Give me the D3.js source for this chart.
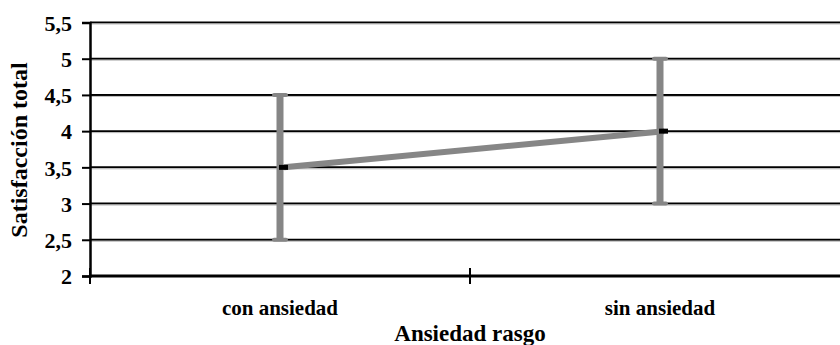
<!DOCTYPE html>
<html><head><meta charset="utf-8">
<script src="https://cdn.jsdelivr.net/npm/d3@7/dist/d3.min.js"></script>
<style>body{margin:0;background:#fff}svg{display:block}</style>
</head><body><svg id="c" width="840" height="345"></svg>
<script>
const categories = ["con ansiedad", "sin ansiedad"];
const means = [3.5, 4.0];
const lows = [2.5, 3.0];
const highs = [4.5, 5.0];
const yTicks = [2, 2.5, 3, 3.5, 4, 4.5, 5, 5.5];
const xTitle = "Ansiedad rasgo";
const yTitle = "Satisfacción total";

const FONT = "Liberation Serif";
const svg = d3.select("#c");
const L = 90, R = 850, T = 22.5, B = 276;
const x = d3.scaleBand().domain(categories).range([L, R]);
const y = d3.scaleLinear().domain([2, 5.5]).range([B, T]);
const fmt = d => String(d).replace(".", ",");
const styleText = (s, size) => s.attr("font-family", FONT).attr("font-weight", "bold")
  .attr("font-size", size).attr("fill", "#000");

// gridlines
svg.append("g").selectAll("line").data(yTicks.filter(d => d > 2)).join("line")
  .attr("x1", L).attr("x2", 840).attr("y1", d => y(d)).attr("y2", d => y(d))
  .attr("stroke", "#000").attr("stroke-width", 2);
svg.append("g").selectAll("line").data(yTicks.filter(d => d > 2)).join("line")
  .attr("x1", L).attr("x2", 840).attr("y1", d => y(d) + 1.5).attr("y2", d => y(d) + 1.5)
  .attr("stroke", "#bbb").attr("stroke-width", 1);

// y axis
const ya = svg.append("g").attr("transform", `translate(${L},0)`)
  .call(d3.axisLeft(y).tickValues(yTicks).tickFormat(fmt).tickSize(8).tickPadding(10));
ya.attr("font-family", FONT).attr("font-size", 22).attr("font-weight", "bold");
ya.select(".domain").attr("stroke-width", 2.5);
ya.selectAll(".tick line").attr("stroke-width", 2);
ya.selectAll(".tick text").attr("x", -18).attr("dy", "0.35em").call(styleText, 22);

// x axis
const xa = svg.append("g").attr("transform", `translate(0,${B})`);
xa.append("line").attr("x1", L).attr("x2", 840).attr("y1", 0).attr("y2", 0)
  .attr("stroke", "#000").attr("stroke-width", 3);
const bounds = [L, x(categories[1])];
xa.selectAll("line.t").data(bounds).join("line").attr("class", "t")
  .attr("x1", d => d).attr("x2", d => d).attr("y1", -8).attr("y2", 8)
  .attr("stroke", "#000").attr("stroke-width", 2);
xa.selectAll("text.c").data(categories).join("text").attr("class", "c")
  .attr("x", d => x(d) + x.bandwidth() / 2).attr("y", 39)
  .attr("text-anchor", "middle").text(d => d).call(styleText, 21);

// titles
svg.append("text").attr("x", 470).attr("y", 341).attr("text-anchor", "middle")
  .text(xTitle).call(styleText, 23);
svg.append("text").attr("transform", "translate(27,150) rotate(-90)")
  .attr("text-anchor", "middle").text(yTitle).call(styleText, 24);

const cx = d => x(d) + x.bandwidth() / 2;
const gray = "#868686";
// error bars
const eb = svg.append("g");
eb.selectAll("line.v").data(categories).join("line").attr("class", "v")
  .attr("x1", d => cx(d)).attr("x2", d => cx(d))
  .attr("y1", (d, i) => y(lows[i])).attr("y2", (d, i) => y(highs[i]))
  .attr("stroke", gray).attr("stroke-width", 7);
eb.selectAll("line.h").data(categories.flatMap((c, i) => [[c, lows[i]], [c, highs[i]]])).join("line").attr("class", "h")
  .attr("x1", d => cx(d[0]) - 6).attr("x2", d => cx(d[0]) + 6)
  .attr("y1", d => y(d[1])).attr("y2", d => y(d[1]))
  .attr("stroke", gray).attr("stroke-width", 4).attr("stroke-linecap", "round");

// mean line
svg.append("path").datum(categories)
  .attr("d", d3.line().x(d => cx(d) + 4).y((d, i) => y(means[i])))
  .attr("fill", "none").attr("stroke", gray).attr("stroke-width", 6);
// markers
svg.selectAll("rect.m").data(categories).join("rect").attr("class", "m")
  .attr("x", d => cx(d) - 1).attr("y", (d, i) => y(means[i]) - 2.5)
  .attr("width", 9).attr("height", 5).attr("fill", "#000");
</script></body></html>
